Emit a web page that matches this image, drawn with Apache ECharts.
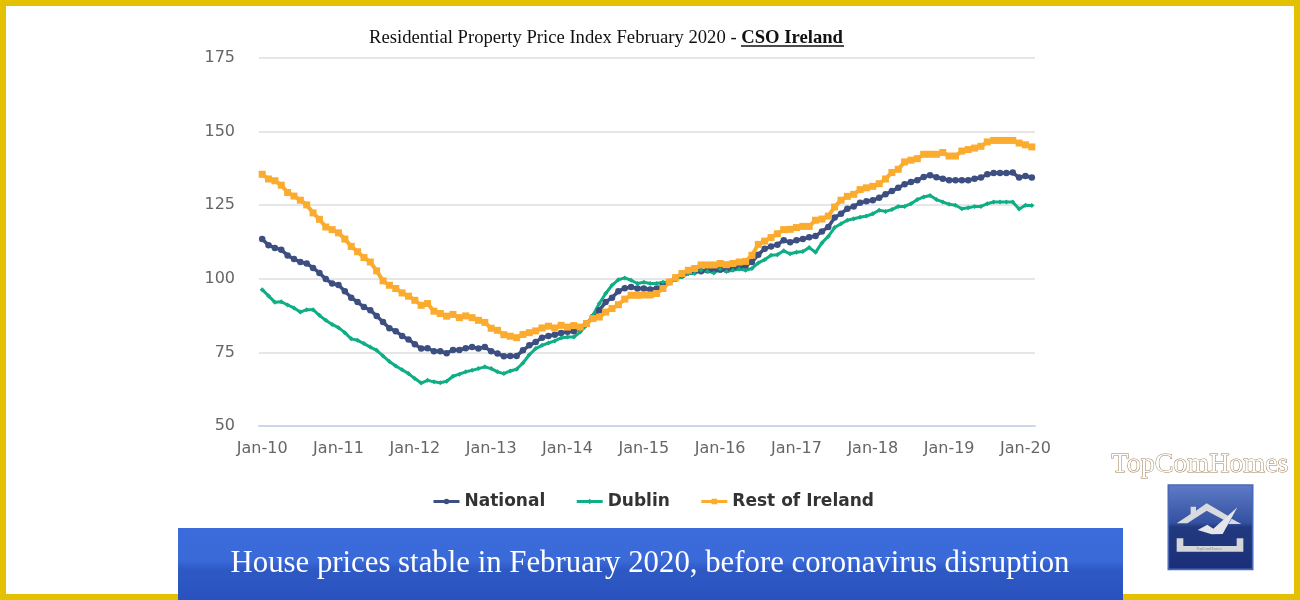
<!DOCTYPE html>
<html>
<head>
<meta charset="utf-8">
<script src="https://cdn.jsdelivr.net/npm/echarts@6/dist/echarts.min.js"></script>
<style>
  html, body { margin: 0; padding: 0; background: #fff; }
  #main { width: 1300px; height: 600px; }
</style>
</head>
<body>
<div id="main"></div>
<script>
const monthNames = ['Jan','Feb','Mar','Apr','May','Jun','Jul','Aug','Sep','Oct','Nov','Dec'];
const startYears = [10,11,12,13,14,15,16,17,18,19];

// one value per month, Jan-10 to Feb-20
const national = [
  113.5,111.4,110.5,109.9,107.9,106.7,105.7,105.2,103.7,102,99.9,98.4,
  97.9,95.8,93.6,92.1,90.4,89.3,87.4,85.3,83.2,82.2,80.6,79.4,
  77.8,76.3,76.4,75.4,75.4,74.7,75.8,75.8,76.4,76.8,76.3,76.8,
  75.4,74.6,73.7,73.8,73.8,75.7,77.4,78.5,80,80.6,81,81.6,
  82,82.2,83.1,84.8,87,89.3,92.1,93.6,95.8,96.8,97.2,96.7,
  96.7,96.4,96.7,97.8,98.9,100.1,101.2,102.3,102.6,102.6,102.9,103.1,
  103.1,103.1,103.7,104,104.4,105.7,108.2,110.2,111,111.6,113.1,112.4,
  113.1,113.5,114.1,114.5,116.1,117.6,120.8,122.1,123.8,124.6,125.8,126.3,
  126.7,127.5,128.7,129.8,130.9,132.1,132.9,133.5,134.6,135.2,134.5,134,
  133.5,133.5,133.5,133.5,134,134.4,135.5,135.9,135.9,135.9,136.1,134.4,
  134.9,134.4
];
const dublin = [
  96.3,94.2,92,92.2,91.1,90.1,88.7,89.5,89.5,87.6,85.9,84.5,
  83.4,81.7,79.6,79.1,78,76.8,75.7,73.8,71.9,70.4,69.1,67.8,
  66.1,64.6,65.5,65,64.7,65.2,66.9,67.6,68.4,68.9,69.5,70.1,
  69.5,68.4,67.8,68.7,69.3,71.4,74.2,76.3,77.4,78.2,78.9,79.9,
  80.2,80.2,81.9,84.2,87.6,91.6,95,97.8,99.7,100.3,99.5,98.4,
  98.8,98.4,98.4,98.8,98.9,100.1,100.6,101.8,101.8,102.9,102.6,102,
  103.3,102.5,102.9,103.3,102.9,103.5,105.4,106.5,108,108.2,109.5,108.5,
  109,109.3,110.6,109,112.2,114.4,117.4,118.7,119.9,120.4,120.9,121.3,
  122.1,123.3,122.9,123.5,124.6,124.6,125.5,126.9,127.8,128.3,126.9,126.1,
  125.3,125,123.8,124.1,124.6,124.6,125.5,126.1,126.1,126.1,126.1,123.7,
  125,124.9
];
const restOfIreland = [
  135.5,133.9,133.3,131.8,129.3,128.1,126.7,125.1,122.4,120.2,117.6,116.7,
  115.6,113.5,111,109.2,107.2,105.7,102.7,99.3,97.8,96.7,95.2,94.1,
  92.7,91,91.6,89,88.2,87.3,87.9,86.8,87.4,86.8,85.9,85.2,
  83.2,82.5,81,80.5,80,81.1,81.7,82.3,83.3,83.9,83.3,84.2,
  83.6,84.1,83.6,84.8,86.5,87,88.7,89.9,91.2,93.1,94.4,94.4,
  94.5,94.5,95,96.7,98.9,100.4,101.8,102.9,103.5,104.7,104.7,104.7,
  105.2,104.8,105.2,105.7,105.9,108,111.7,112.8,114,115.3,116.7,116.8,
  117.4,117.8,117.8,119.9,120.3,121.3,124.4,126.7,128,128.7,130.3,130.9,
  131.4,132.3,133.9,136.1,137.2,139.7,140.3,140.8,142.3,142.3,142.3,142.9,
  141.7,141.7,143.4,143.9,144.4,145,146.5,147,147,147,147,146.1,
  145.5,144.8
];

const months = [];
startYears.forEach(y => monthNames.forEach(m => months.push(m + '-' + y)));
months.push('Jan-20', 'Feb-20');

const chart = echarts.init(document.getElementById('main'));

const option = {
  backgroundColor: '#fff',
  animation: false,
  title: {
    text: '{a|Residential Property Price Index February 2020 - }{b|CSO Ireland}',
    left: 601,
    top: 24,
    textAlign: 'center',
    textStyle: {
      rich: {
        a: { fontFamily: 'Liberation Serif', fontSize: 18.65, fontWeight: 'normal', color: '#111' },
        b: { fontFamily: 'Liberation Serif', fontSize: 18.65, fontWeight: 'bold', color: '#111' }
      }
    }
  },
  grid: { left: 259, right: 265, top: 58, bottom: 174 },
  legend: {
    bottom: 85,
    left: 427,
    itemWidth: 26,
    itemHeight: 7,
    itemGap: 30,
    lineStyle: { width: 3 },
    textStyle: { fontFamily: 'DejaVu Sans', fontSize: 17, fontWeight: 'bold', color: '#333' },
    data: ['National', 'Dublin', 'Rest of Ireland']
  },
  xAxis: {
    type: 'category',
    data: months,
    boundaryGap: true,
    axisTick: { show: false },
    axisLine: { lineStyle: { color: '#ccd6eb', width: 2 } },
    axisLabel: {
      interval: (index) => index % 12 === 0,
      margin: 15,
      fontFamily: 'DejaVu Sans',
      fontSize: 16,
      color: '#666'
    }
  },
  yAxis: {
    type: 'value',
    min: 50,
    max: 175,
    interval: 25,
    axisLine: { show: false },
    axisTick: { show: false },
    splitLine: { lineStyle: { color: '#e6e6e6', width: 2 } },
    axisLabel: { margin: 24, fontFamily: 'DejaVu Sans', fontSize: 16, color: '#666' }
  },
  series: [
    { name: 'National', type: 'line', data: national, symbol: 'circle', symbolSize: 6.5, showAllSymbol: true,
      lineStyle: { width: 3.5, color: '#3d4f80' }, itemStyle: { color: '#3d4f80' } },
    { name: 'Dublin', type: 'line', data: dublin, symbol: 'diamond', symbolSize: 5, showAllSymbol: true,
      lineStyle: { width: 3, color: '#0fae85' }, itemStyle: { color: '#0fae85' } },
    { name: 'Rest of Ireland', type: 'line', data: restOfIreland, symbol: 'rect', symbolSize: 7, showAllSymbol: true,
      lineStyle: { width: 4, color: '#fbab2e' }, itemStyle: { color: '#fbab2e' } }
  ],
  graphic: [
    // gold frame
    { type: 'rect', shape: { x: 3, y: 3, width: 1294, height: 594 }, z: 50,
      style: { fill: 'none', stroke: '#e3c000', lineWidth: 6 } },
    // underline below the source name
    { type: 'line', shape: { x1: 741, y1: 46, x2: 844, y2: 46 }, z: 50,
      style: { stroke: '#111', lineWidth: 1.5 } },
    // banner
    { type: 'rect', shape: { x: 178, y: 528, width: 945, height: 72 }, z: 60,
      style: {
        fill: new echarts.graphic.LinearGradient(0, 0, 0, 1, [
          { offset: 0, color: '#3c6cdb' },
          { offset: 0.45, color: '#3a69d8' },
          { offset: 0.58, color: '#2e59c5' },
          { offset: 1, color: '#2a52be' }
        ])
      } },
    { type: 'text', x: 650, y: 564, z: 61,
      style: {
        text: 'House prices stable in February 2020, before coronavirus disruption',
        fill: '#fff', font: '30.8px "Liberation Serif"', textAlign: 'center', textVerticalAlign: 'middle'
      } },
    // brand name
    { type: 'text', x: 1200, y: 465, z: 61,
      style: {
        text: 'TopComHomes', fill: '#fff', stroke: '#a07f58', lineWidth: 1,
        font: '28px "Liberation Serif"', textAlign: 'center', textVerticalAlign: 'middle'
      } },
    // logo, drawn in the 3x crop coordinates
    { type: 'group', x: 1100, y: 440, scaleX: 1 / 3, scaleY: 1 / 3, z: 61, children: [
      { type: 'rect', shape: { x: 205, y: 135, width: 253, height: 253 },
        style: {
          fill: new echarts.graphic.LinearGradient(0, 0, 0, 1, [
            { offset: 0, color: '#5f7cc8' },
            { offset: 0.45, color: '#33519f' },
            { offset: 0.5, color: '#22397f' },
            { offset: 1, color: '#1a2f78' }
          ]),
          stroke: '#4a68b8', lineWidth: 5
        } },
      { type: 'polygon', shape: { points: [[230,250],[272,222],[272,200],[288,200],[288,212],[320,190],[385,228],[372,240],[320,212],[262,250]] },
        style: { fill: '#d8dade' } },
      { type: 'polygon', shape: { points: [[395,236],[424,252],[385,252]] }, style: { fill: '#d8dade' } },
      { type: 'polygon', shape: { points: [[293,270],[322,254],[340,266],[412,202],[368,282],[335,283]] },
        style: { fill: '#e4e6ea' } },
      { type: 'polygon', shape: { points: [[230,295],[250,295],[250,318],[410,318],[410,295],[430,295],[430,335],[230,335]] },
        style: { fill: '#d4d6da' } },
      { type: 'text', x: 327, y: 326,
        style: { text: 'TopComHomes', fill: '#8a8a8a', font: '12px "Liberation Serif"', textAlign: 'center', textVerticalAlign: 'middle' } }
    ] }
  ]
};

chart.setOption(option);
</script>
</body>
</html>
